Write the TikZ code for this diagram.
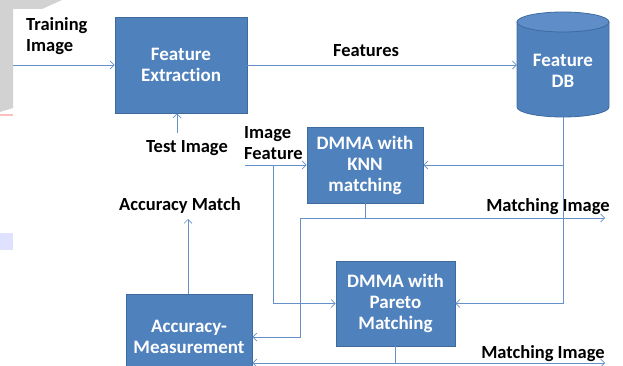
\documentclass[tikz,border=0pt]{standalone}
\usepackage{fontspec}
\setmainfont{Carlito}[Ligatures=NoCommon]
\usetikzlibrary{arrows.meta}
\definecolor{boxfill}{HTML}{4F81BD}
\definecolor{boxline}{HTML}{3F6A9E}
\definecolor{topfill}{HTML}{5E8DC8}
\definecolor{wire}{HTML}{6690C8}
\tikzset{
  blk/.style={draw=boxline, line width=0.8pt, fill=boxfill, text=white, font=\bfseries\fontsize{19}{21}\selectfont, align=center, inner sep=0pt},
  lbl/.style={font=\bfseries\fontsize{18.5}{21}\selectfont, text=black, align=center, inner sep=0pt},
  wr/.style={draw=wire, line width=0.9pt},
  arr/.style={wr, -{Straight Barb[length=4pt, width=8pt, line width=0.7pt]}}
}
\begin{document}
\begin{tikzpicture}[x=1pt, y=-1pt]
\useasboundingbox (0,0) rectangle (623,366);
\clip (0,0) rectangle (623,366);
% faint watermark remnants
\fill[gray!35] (0,0) -- (62,0) -- (42,9) -- (13,9) -- (13,108) -- (0,112) -- cycle;
\fill[red!25] (0,114) rectangle (13,116);
\fill[blue!12] (0,233) rectangle (13,250);

% nodes
\node[blk, minimum width=132pt, minimum height=96pt] (fe) at (181,65) {Feature\\Extraction};
\node[blk, minimum width=116pt, minimum height=76pt] (knn) at (365,165) {DMMA with\\KNN\\matching};
\node[blk, minimum width=119pt, minimum height=85pt] (par) at (395.5,303.5) {DMMA with\\Pareto\\Matching};
\node[blk, minimum width=126pt, minimum height=85pt] (acc) at (189,337) {Accuracy-\\Measurement};

% cylinder Feature DB
\fill[boxfill, draw=boxline, line width=0.8pt] (517,22) -- (517,107) arc[start angle=180, end angle=0, x radius=46, y radius=10] -- (609,22) -- cycle;
\filldraw[fill=topfill, draw=boxline, line width=0.8pt] (563,22) ellipse[x radius=46, y radius=10];
\node[inner sep=0pt, minimum width=92pt, minimum height=92pt, text=white, font=\bfseries\fontsize{19}{21}\selectfont, align=center] (db) at (563,71) {Feature\\DB};

% labels
\node[lbl, align=left, anchor=west] (tr) at (26,36) {Training\\Image};
\node[lbl] (ftl) at (366,51) {Features};
\node[lbl] (til) at (187,148) {Test Image};
\node[lbl, align=left, anchor=west] (ifl) at (244,143) {Image\\Feature};
\node[lbl] (aml) at (180,205) {Accuracy Match};
\node[lbl] (mi1) at (548,207) {Matching Image};
\node[lbl] (mi2) at (543,354) {Matching Image};

% free ends
\coordinate (tin) at (13,65);
\coordinate (tst) at (177,133);
\coordinate (ifin) at (245,165);
\coordinate (ifv) at (273,165);
\coordinate (m0) at (300,218);
\coordinate (m1) at (605,218);
\coordinate (amt) at (188,219);
\coordinate (m2) at (605,363);
\coordinate (b0) at (395.5,363);

% connectors
\draw[arr] (tin) -- (fe.west |- tin);
\draw[arr] (fe.east) -- (fe.east -| db.west);
\draw[arr] (tst) -- (tst |- fe.south);
\draw[wr] (db.south) -- (db.south |- par.east);
\draw[arr] (db.south |- par.east) -- (par.east);
\draw[arr] (db.south |- knn.east) -- (knn.east);
\draw[arr] (ifin) -- (knn.west);
\draw[arr] (ifv) |- (par.west);
\draw[wr] (knn.south) -- (knn.south |- m0);
\draw[arr] (m0) -- (m1);
\draw[arr] (m0) |- (acc.east);
\draw[arr] (acc.north -| amt) -- (amt);
\draw[wr] (par.south) -- (b0);
\draw[arr] (b0) -- (m2);
\draw[arr] (b0) -- (b0 -| acc.east);
\end{tikzpicture}
\end{document}
